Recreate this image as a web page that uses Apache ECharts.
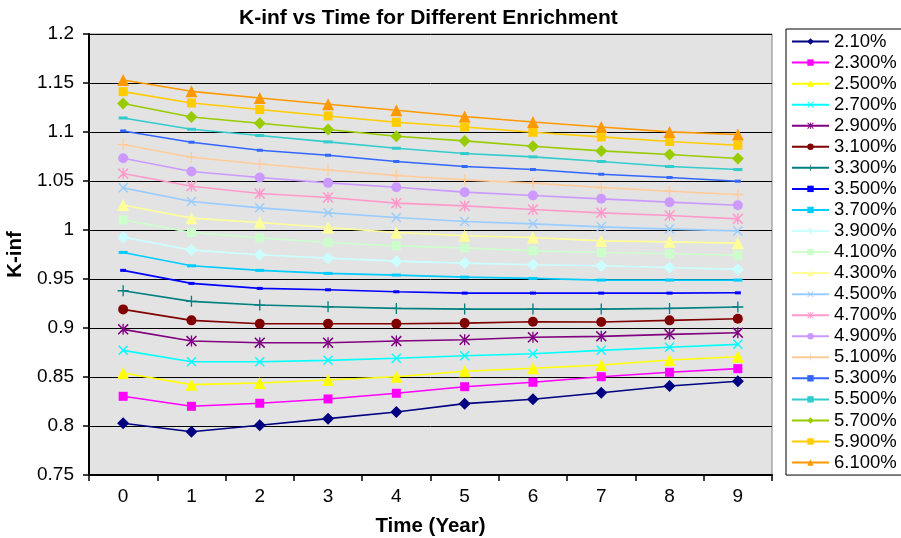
<!DOCTYPE html>
<html>
<head>
<meta charset="utf-8">
<script src="https://cdn.jsdelivr.net/npm/echarts@6/dist/echarts.min.js"></script>
<style>
html,body{margin:0;padding:0;background:#fff;}
#chart{width:901px;height:538px;}
</style>
</head>
<body>
<div id="chart"></div>
<script>
const years = ['0','1','2','3','4','5','6','7','8','9'];
const seriesNames = ['2.10%','2.300%','2.500%','2.700%','2.900%','3.100%','3.300%','3.500%','3.700%','3.900%','4.100%','4.300%','4.500%','4.700%','4.900%','5.100%','5.300%','5.500%','5.700%','5.900%','6.100%'];
const yTicks = [0.75,0.8,0.85,0.9,0.95,1,1.05,1.1,1.15,1.2];

const k210 = [0.8028,0.7942,0.8008,0.8075,0.8143,0.8228,0.8273,0.8340,0.8408,0.8456];
const k230 = [0.8303,0.8201,0.8232,0.8276,0.8334,0.8401,0.8446,0.8503,0.8548,0.8585];
const k250 = [0.8541,0.8422,0.8439,0.8469,0.8503,0.8558,0.8589,0.8622,0.8673,0.8707];
const k270 = [0.8772,0.8656,0.8656,0.8670,0.8691,0.8717,0.8738,0.8772,0.8803,0.8833];
const k290 = [0.8986,0.8867,0.8850,0.8850,0.8867,0.8880,0.8905,0.8915,0.8935,0.8952];
const k310 = [0.9190,0.9078,0.9043,0.9043,0.9043,0.9050,0.9064,0.9061,0.9078,0.9094];
const k330 = [0.9380,0.9272,0.9234,0.9217,0.9200,0.9193,0.9193,0.9193,0.9200,0.9214];
const k350 = [0.9588,0.9455,0.9404,0.9390,0.9370,0.9356,0.9356,0.9356,0.9356,0.9359];
const k370 = [0.9771,0.9635,0.9588,0.9557,0.9540,0.9519,0.9506,0.9489,0.9489,0.9489];
const k390 = [0.9927,0.9795,0.9747,0.9713,0.9682,0.9662,0.9645,0.9635,0.9618,0.9598];
const k410 = [1.0103,0.9975,0.9920,0.9873,0.9838,0.9818,0.9787,0.9771,0.9757,0.9742];
const k430 = [1.0256,1.0121,1.0077,1.0026,0.9975,0.9941,0.9924,0.9889,0.9879,0.9866];
const k450 = [1.0430,1.0291,1.0226,1.0175,1.0128,1.0087,1.0063,1.0032,1.0009,0.9991];
const k470 = [1.0576,1.0447,1.0372,1.0332,1.0274,1.0246,1.0209,1.0175,1.0148,1.0114];
const k490 = [1.0732,1.0597,1.0536,1.0481,1.0437,1.0386,1.0352,1.0318,1.0284,1.0253];
const k510 = [1.0872,1.0743,1.0674,1.0613,1.0556,1.0511,1.0478,1.0434,1.0396,1.0362];
const k530 = [1.1011,1.0896,1.0814,1.0763,1.0699,1.0648,1.0617,1.0569,1.0536,1.0498];
const k550 = [1.1143,1.1028,1.0964,1.0899,1.0834,1.0780,1.0746,1.0699,1.0648,1.0617];
const k570 = [1.1290,1.1153,1.1089,1.1025,1.0957,1.0909,1.0855,1.0807,1.0770,1.0729];
const k590 = [1.1412,1.1296,1.1229,1.1164,1.1099,1.1051,1.0997,1.0950,1.0903,1.0865];
const k610 = [1.1531,1.1415,1.1347,1.1283,1.1222,1.1158,1.1102,1.1051,1.1001,1.0974];

const seriesValues = [k210,k230,k250,k270,k290,k310,k330,k350,k370,k390,k410,k430,k450,k470,k490,k510,k530,k550,k570,k590,k610];

const FONT = '"Liberation Sans", Arial, sans-serif';

const SYM_X = 'path://M0,1 L1,0 L5,4 L9,0 L10,1 L6,5 L10,9 L9,10 L5,6 L1,10 L0,9 L4,5 Z';
const SYM_STAR = 'path://M0,1 L1,0 L5,4 L9,0 L10,1 L6,5 L10,9 L9,10 L5,6 L1,10 L0,9 L4,5 Z M4.4,0 L5.6,0 L5.6,10 L4.4,10 Z';
const SYM_PLUS = 'path://M4.4,0 L5.6,0 L5.6,4.4 L10,4.4 L10,5.6 L5.6,5.6 L5.6,10 L4.4,10 L4.4,5.6 L0,5.6 L0,4.4 L4.4,4.4 Z';

const styles = [
  {c:'#000080', s:'diamond', z:12},
  {c:'#FF00FF', s:'rect', z:9},
  {c:'#FFFF00', s:'triangle', z:12},
  {c:'#00FFFF', s:SYM_X, z:10},
  {c:'#800080', s:SYM_STAR, z:11},
  {c:'#800000', s:'circle', z:10},
  {c:'#008080', s:SYM_PLUS, z:11},
  {c:'#0000FF', s:'rect', z:[6,3]},
  {c:'#00CCFF', s:'rect', z:[9,3]},
  {c:'#CCFFFF', s:'diamond', z:12},
  {c:'#CCFFCC', s:'rect', z:9},
  {c:'#FFFF99', s:'triangle', z:12},
  {c:'#99CCFF', s:SYM_X, z:10},
  {c:'#FF99CC', s:SYM_STAR, z:11},
  {c:'#CC99FF', s:'circle', z:10},
  {c:'#FFCC99', s:SYM_PLUS, z:11},
  {c:'#3366FF', s:'rect', z:[6,3]},
  {c:'#33CCCC', s:'rect', z:[9,3]},
  {c:'#99CC00', s:'diamond', z:12},
  {c:'#FFCC00', s:'rect', z:9},
  {c:'#FF9900', s:'triangle', z:12}
];

const series = seriesNames.map((name, i) => ({
  name: name,
  type: 'line',
  data: seriesValues[i],
  symbol: styles[i].s,
  symbolSize: styles[i].z,
  showAllSymbol: true,
  lineStyle: {color: styles[i].c, width: 1.6},
  itemStyle: {color: styles[i].c},
  emphasis: {disabled: true}
}));

const chart = echarts.init(document.getElementById('chart'), null, {renderer: 'canvas'});
chart.setOption({
  animation: false,
  backgroundColor: '#ffffff',
  title: {
    text: 'K-inf vs Time for Different Enrichment',
    left: 239, top: 8, padding: 0,
    textStyle: {fontFamily: FONT, fontSize: 21, fontWeight: 'bold', color: '#000', lineHeight: 21}
  },
  legend: {
    orient: 'vertical',
    left: 786, top: 29,
    padding: [2, 10, 2, 5],
    itemGap: 0,
    itemWidth: 37,
    itemHeight: 8,
    borderColor: '#000', borderWidth: 1,
    backgroundColor: '#ffffff',
    data: seriesNames,
    textStyle: {fontFamily: FONT, fontSize: 18.5, color: '#000', lineHeight: 21.05}
  },
  grid: {
    left: 89, top: 34, width: 683, height: 441,
    show: true, backgroundColor: '#E3E3E3', borderColor: '#808080', borderWidth: 1,
    containLabel: false,
    outerBoundsMode: 'none'
  },
  xAxis: {
    type: 'category',
    data: years,
    boundaryGap: true,
    name: 'Time (Year)',
    nameLocation: 'middle',
    nameGap: 41,
    nameTextStyle: {fontFamily: FONT, fontSize: 20.5, fontWeight: 'bold', color: '#000'},
    axisLine: {show: true, lineStyle: {color: '#000', width: 2}},
    axisTick: {show: true, alignWithLabel: false, inside: false, length: 6, lineStyle: {color: '#000', width: 1.5}},
    axisLabel: {fontFamily: FONT, fontSize: 19, color: '#000', margin: 12},
    splitLine: {show: false}
  },
  yAxis: {
    type: 'value',
    min: yTicks[0], max: yTicks[yTicks.length - 1], interval: 0.05,
    name: 'K-inf',
    nameLocation: 'middle',
    nameRotate: 90,
    nameGap: 61,
    nameTextStyle: {fontFamily: FONT, fontSize: 20.5, fontWeight: 'bold', color: '#000'},
    axisLine: {show: true, lineStyle: {color: '#000', width: 2}},
    axisTick: {show: true, inside: false, length: 6, lineStyle: {color: '#000', width: 1.5}},
    axisLabel: {fontFamily: FONT, fontSize: 19, color: '#000', margin: 15,
      formatter: v => String(Number(v.toFixed(2)))},
    splitLine: {show: true, lineStyle: {color: '#000', width: 1}}
  },
  series: series
});
</script>
</body>
</html>
